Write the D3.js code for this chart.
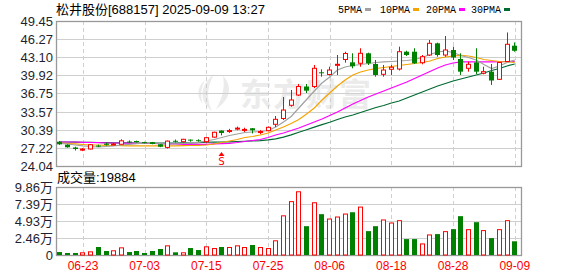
<!DOCTYPE html>
<html>
<head>
<meta charset="utf-8">
<script src="https://d3js.org/d3.v7.min.js"></script>
<style>
  body { margin: 0; background: #fff; }
  svg { display: block; font-family: "Liberation Sans", "Noto Sans CJK SC", sans-serif; }
</style>
</head>
<body>
<div id="chart"></div>
<script>
// ---- data ----
const dates = ["06-18","06-19","06-20","06-23","06-24","06-25","06-26","06-27","06-30",
  "07-01","07-02","07-03","07-04","07-07","07-08","07-09","07-10","07-11","07-14","07-15","07-16","07-17","07-18",
  "07-21","07-22","07-23","07-24","07-25","07-28","07-29","07-30","07-31",
  "08-01","08-04","08-05","08-06","08-07","08-08","08-11","08-12","08-13","08-14","08-15","08-18","08-19","08-20",
  "08-21","08-22","08-25","08-26","08-27","08-28","08-29",
  "09-01","09-02","09-03","09-04","09-05","09-08","09-09"];

const opens = [28.30,27.77,27.28,26.95,27.02,27.62,27.95,27.85,27.85,28.32,
  28.42,28.22,28.22,27.85,27.30,28.46,28.30,28.66,28.56,28.30,
  29.10,30.25,30.15,30.60,30.38,30.65,29.98,30.23,31.35,32.36,
  34.68,36.48,37.97,37.97,40.46,40.08,41.69,42.70,42.21,42.04,
  43.79,41.92,40.11,40.99,41.04,44.07,44.07,42.14,43.49,45.54,
  43.49,44.37,42.79,41.16,42.18,40.29,40.57,39.23,42.35,45.12];
const closes = [27.84,27.32,27.02,27.00,27.77,27.50,27.75,27.90,28.45,28.25,
  28.22,28.12,27.90,27.42,28.40,28.40,28.72,28.60,28.50,29.00,
  29.95,29.82,30.25,30.68,30.45,30.30,30.08,30.82,32.22,33.85,
  35.61,37.97,37.24,41.16,40.29,40.86,41.86,43.76,41.51,43.79,
  42.04,39.99,40.86,41.34,44.07,43.49,42.04,43.19,45.54,43.49,
  44.37,43.05,40.57,41.86,40.57,40.57,39.02,42.18,45.37,44.23];
const highs = [28.42,27.85,27.42,27.18,27.88,27.78,28.08,28.10,28.72,28.52,
  28.48,28.28,28.26,27.90,28.50,28.68,28.80,28.68,28.72,29.10,
  30.05,30.30,30.55,30.95,30.75,30.70,30.32,30.95,32.80,36.13,
  37.36,38.41,38.41,41.74,40.99,41.44,43.49,44.07,43.79,44.67,
  43.90,42.62,41.74,41.74,44.95,44.25,44.67,43.49,46.12,45.65,
  46.82,44.95,43.79,42.32,44.67,41.44,41.92,42.27,47.44,45.68];
const lows = [27.75,27.25,26.75,26.65,26.95,27.35,27.62,27.68,27.80,28.05,
  28.15,28.02,27.85,27.35,27.10,28.15,28.20,28.30,28.30,28.15,
  29.00,29.40,29.85,30.30,30.00,29.75,29.62,30.10,30.87,32.10,
  34.43,36.31,36.83,37.71,39.69,39.90,39.99,42.14,41.16,41.44,
  41.74,39.69,39.69,39.99,40.78,43.32,41.92,41.86,43.32,43.19,
  43.19,42.62,39.99,40.57,40.16,40.11,38.24,39.11,42.27,44.07];

// volume, in 万 (10k) hands
const volumes = [0.43,0.29,0.29,0.39,0.53,1.16,0.58,0.68,1.11,0.43,
  0.58,0.29,0.58,0.87,1.40,0.39,0.39,1.01,0.72,1.26,
  1.01,1.16,1.16,1.40,1.16,1.45,1.16,1.01,2.13,5.75,
  7.81,9.24,4.18,7.65,5.92,5.29,5.58,6.01,6.20,7.02,
  3.46,4.18,5.15,4.71,5.05,2.31,2.31,1.68,2.98,3.03,
  3.46,3.75,5.63,3.75,4.76,3.61,2.45,3.75,5.05,1.99];

const ma5 = [27.98,27.90,27.72,27.55,27.46,27.37,27.46,27.55,27.72,27.84,
  27.95,28.04,28.07,27.98,27.90,27.93,27.98,28.12,28.19,28.42,
  28.68,29.04,29.39,29.65,29.91,30.00,30.09,30.26,30.88,31.75,
  32.72,34.20,35.69,37.18,38.59,39.64,40.86,41.39,41.65,41.83,
  42.00,42.18,42.27,42.35,42.44,42.53,42.70,43.05,43.58,44.02,
  44.19,43.93,43.41,43.05,42.62,41.83,41.13,41.57,42.18,42.62];
const ma10 = [28.07,27.98,27.90,27.81,27.72,27.72,27.67,27.63,27.60,27.58,
  27.55,27.55,27.55,27.55,27.55,27.55,27.60,27.63,27.67,27.72,
  27.90,28.16,28.42,28.68,29.04,29.21,29.47,29.82,30.35,30.88,
  31.49,32.19,33.15,34.20,35.61,36.83,38.06,39.11,39.99,40.51,
  40.86,41.13,41.30,41.48,41.65,41.83,42.00,42.18,42.44,42.88,
  43.14,43.32,43.41,43.32,43.05,42.70,42.53,42.35,42.27,42.21];
const ma20 = [28.25,28.25,28.25,28.19,28.16,28.12,28.07,28.07,28.07,28.04,
  28.02,28.02,27.98,27.95,27.90,27.90,27.84,27.84,27.84,27.84,
  27.90,27.95,28.02,28.16,28.33,28.51,28.68,29.04,29.47,29.82,
  30.26,30.70,31.23,31.75,32.28,32.89,33.50,34.20,34.91,35.52,
  36.13,36.66,37.18,37.71,38.24,38.76,39.37,39.99,40.60,41.21,
  41.74,42.09,42.27,42.27,42.27,42.27,42.27,42.32,42.35,42.39];
const ma30 = [28.25,28.25,28.22,28.20,28.18,28.16,28.12,28.10,28.10,28.08,
  28.07,28.06,28.06,28.05,28.05,28.06,28.08,28.10,28.15,28.20,
  28.22,28.25,28.28,28.33,28.38,28.44,28.50,28.62,28.80,29.10,
  29.50,29.95,30.40,30.85,31.30,31.70,32.19,32.63,32.98,33.42,
  33.85,34.29,34.64,35.08,35.43,35.96,36.48,37.01,37.53,38.06,
  38.50,38.94,39.29,39.64,39.99,40.34,40.78,41.13,41.57,41.92];

const priceTicks = [24.04, 27.22, 30.39, 33.57, 36.75, 39.92, 43.10, 46.27, 49.45];
const volTicks = [0, 2.46, 4.93, 7.39, 9.86];
const xTickLabels = ["06-23","07-03","07-15","07-25","08-06","08-18","08-28","09-09"];
const signalDate = "07-17";

const maNames = ["5PMA", "10PMA", "20PMA", "30PMA"];
const maColors = ["#a0a0a0", "#f5a300", "#ff00ff", "#006a32"];

const title = "松井股份[688157] 2025-09-09 13:27";
const lastVolume = "19884";

// ---- layout ----
const W = 578, H = 276;
const left = 56, right = 522;
const pTop = 21, pBot = 166;
const vTop = 187, vBot = 255;
const RED = "#ff0000", GREEN = "#008000";

const svg = d3.select("#chart").append("svg")
  .attr("width", W).attr("height", H);

const x = d3.scaleBand().domain(dates).range([left, 518.6]);
const cx = d => x(d) + x.bandwidth() / 2;
const yP = d3.scaleLinear().domain([24.04, 49.45]).range([pBot, pTop]);
const yV = d3.scaleLinear().domain([0, 9.86]).range([vBot, vTop]);
const px = v => Math.round(v) + 0.5;

const data = dates.map((d, i) => ({
  date: d, o: opens[i], c: closes[i], h: highs[i], l: lows[i], v: volumes[i],
  up: closes[i] >= opens[i]
}));

// watermark
const wm = svg.append("g").attr("fill", "#ebebeb");
wm.append("path").attr("d", "M214,74 C199,86 199,101 212,111 C206,99 207,87 214,74 Z");
wm.append("path").attr("d", "M223,76 C234,87 229,101 216,109 C223,97 225,87 223,76 Z");
wm.append("path").attr("d", "M205,80 C196,88 197,98 203,104 C200,96 201,88 205,80 Z");
wm.append("text").attr("x", 240).attr("y", 106)
  .attr("font-size", 32).attr("letter-spacing", 1)
  .attr("font-family", "Noto Sans CJK SC").attr("font-weight", "bold")
  .text("东方财富");

// grid
const grid = svg.append("g").attr("stroke", "#cfcfcf").attr("stroke-width", 1);
priceTicks.slice(1, -1).forEach(t => {
  grid.append("line").attr("x1", left).attr("x2", right)
    .attr("y1", px(yP(t))).attr("y2", px(yP(t)));
});
volTicks.slice(1, -1).forEach(t => {
  grid.append("line").attr("x1", left).attr("x2", right)
    .attr("y1", px(yV(t))).attr("y2", px(yV(t)));
});
xTickLabels.forEach(t => {
  const xx = px(cx(t));
  grid.append("line").attr("x1", xx).attr("x2", xx).attr("y1", pTop).attr("y2", pBot)
    .attr("stroke-dasharray", "4,3");
  grid.append("line").attr("x1", xx).attr("x2", xx).attr("y1", vTop).attr("y2", vBot)
    .attr("stroke-dasharray", "4,3");
});

// frames
svg.append("rect").attr("x", left + 0.5).attr("y", pTop + 0.5)
  .attr("width", right - left - 1).attr("height", pBot - pTop)
  .attr("fill", "none").attr("stroke", "#999").attr("stroke-width", 1.3);
svg.append("rect").attr("x", left + 0.5).attr("y", vTop + 0.5)
  .attr("width", right - left - 1).attr("height", vBot - vTop)
  .attr("fill", "none").attr("stroke", "#999").attr("stroke-width", 1.3);

// y axis labels
const axisFont = { size: 13, color: "#1f1f2f" };
svg.append("g").selectAll("text").data(priceTicks).join("text")
  .attr("x", 53).attr("y", d => yP(d) + 5)
  .attr("text-anchor", "end").attr("font-size", axisFont.size).attr("fill", axisFont.color)
  .text(d => d.toFixed(2));
svg.append("g").selectAll("text").data(volTicks).join("text")
  .attr("x", 53).attr("y", d => yV(d) + 5)
  .attr("text-anchor", "end").attr("font-size", axisFont.size).attr("fill", axisFont.color)
  .text(d => d === 0 ? "0" : d.toFixed(2) + "万");

// x axis labels
svg.append("g").selectAll("text").data(xTickLabels).join("text")
  .attr("x", d => cx(d)).attr("y", 270)
  .attr("text-anchor", "middle").attr("font-size", 12).attr("fill", RED)
  .text(d => d);

// MA lines
const maSeries = [ma5, ma10, ma20, ma30];
const line = d3.line().x((d, i) => cx(dates[i])).y(d => yP(d));
[3, 2, 1, 0].forEach(k => {
  svg.append("path").datum(maSeries[k])
    .attr("d", line).attr("fill", "none")
    .attr("stroke", maColors[k]).attr("stroke-width", 1.2);
});

// candles
const candles = svg.append("g").selectAll("g").data(data).join("g");
candles.append("line")
  .attr("x1", d => Math.round(cx(d.date) - 2.5) + 2.5)
  .attr("x2", d => Math.round(cx(d.date) - 2.5) + 2.5)
  .attr("y1", d => yP(d.h)).attr("y2", d => yP(d.l))
  .attr("stroke", d => d.up ? RED : GREEN).attr("stroke-width", 1);
candles.append("rect")
  .attr("x", d => Math.round(cx(d.date) - 2.5) + (d.up ? 0.5 : 0))
  .attr("width", d => d.up ? 4 : 5)
  .attr("y", d => yP(Math.max(d.o, d.c)))
  .attr("height", d => Math.max(1, yP(Math.min(d.o, d.c)) - yP(Math.max(d.o, d.c))))
  .attr("fill", d => d.up ? "#fff" : GREEN)
  .attr("stroke", d => d.up ? RED : "none").attr("stroke-width", 1);

// volume bars
svg.append("g").selectAll("rect").data(data).join("rect")
  .attr("x", d => Math.round(cx(d.date) - 2.5) + (d.up ? 0.5 : 0))
  .attr("width", d => d.up ? 4 : 5)
  .attr("y", d => yV(d.v) + (d.up ? 0.5 : 0))
  .attr("height", d => vBot - yV(d.v) - (d.up ? 0.5 : 0))
  .attr("fill", d => d.up ? "#fff" : GREEN)
  .attr("stroke", d => d.up ? RED : "none").attr("stroke-width", 1);

// signal marker
const sx = Math.round(cx(signalDate) - 2.5) + 2.5;
svg.append("path").attr("d", `M${sx},152 L${sx - 3},156 L${sx + 3},156 Z`).attr("fill", RED);
svg.append("text").attr("x", sx).attr("y", 165).attr("text-anchor", "middle")
  .attr("font-size", 11).attr("fill", RED).attr("font-family", "DejaVu Sans Mono")
  .text("S");

// title
svg.append("text").attr("x", 56).attr("y", 14).attr("font-size", 13).attr("fill", "#000")
  .text(title);

// legend
const legendX = [338, 380, 426, 471];
const legend = svg.append("g");
maNames.forEach((n, k) => {
  const t = legend.append("text").attr("x", legendX[k]).attr("y", 13)
    .attr("font-size", 10).attr("font-family", "Liberation Mono").attr("fill", "#000")
    .text(n);
  const w = n.length * 6;
  legend.append("rect").attr("x", legendX[k] + w + 3).attr("y", 8)
    .attr("width", 6).attr("height", 3).attr("fill", maColors[k]);
});

// volume caption
svg.append("text").attr("x", 57).attr("y", 182).attr("font-size", 13).attr("fill", "#000")
  .text("成交量:" + lastVolume);
</script>
</body>
</html>
